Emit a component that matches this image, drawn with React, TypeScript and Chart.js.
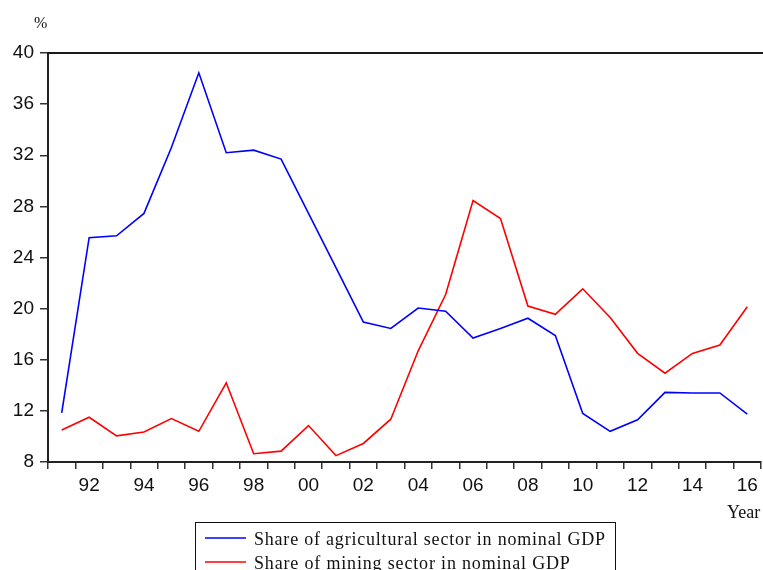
import React, { useEffect, useRef } from "react";
import { Chart, registerables } from "chart.js";

Chart.register(...registerables);

const years: string[] = [
  "1991", "1992", "1993", "1994", "1995", "1996", "1997", "1998", "1999", "2000",
  "2001", "2002", "2003", "2004", "2005", "2006", "2007", "2008", "2009", "2010",
  "2011", "2012", "2013", "2014", "2015", "2016",
];

const agriculture: number[] = [
  11.85, 25.55, 25.7, 27.45, 32.6, 38.45, 32.2, 32.4, 31.7, 27.45,
  23.2, 18.95, 18.45, 20.05, 19.8, 17.7, 18.45, 19.25, 17.9, 11.8,
  10.4, 11.3, 13.45, 13.4, 13.4, 11.75,
];

const mining: number[] = [
  10.5, 11.5, 10.05, 10.35, 11.4, 10.4, 14.2, 8.65, 8.85, 10.85,
  8.5, 9.45, 11.35, 16.7, 21.1, 28.45, 27.05, 20.2, 19.55, 21.55,
  19.3, 16.5, 14.95, 16.5, 17.15, 20.15,
];

const seriesNames: string[] = [
  "Share of agricultural sector in nominal GDP",
  "Share of mining sector in nominal GDP",
];

const yTicks = { min: 8, max: 40, step: 4 };

const decorPlugin = {
  id: "decor",
  afterDraw(chart: any) {
    const ctx = chart.ctx as CanvasRenderingContext2D;
    const area = chart.chartArea;
    ctx.save();
    // top border
    ctx.strokeStyle = "#1a1a1a";
    ctx.lineWidth = 2;
    ctx.beginPath();
    ctx.moveTo(area.left - 1, area.top);
    ctx.lineTo(chart.width, area.top);
    ctx.stroke();

    // % label
    ctx.fillStyle = "#111";
    ctx.font = "16px 'Liberation Serif'";
    ctx.textAlign = "left";
    ctx.textBaseline = "alphabetic";
    ctx.fillText("%", 34, 28);

    // Year label
    ctx.font = "18px 'Liberation Serif'";
    ctx.fillText("Year", 727, 518);

    // legend box
    ctx.strokeStyle = "#111";
    ctx.lineWidth = 1;
    ctx.strokeRect(195.5, 522.5, 420, 60);

    const colors = ["#0000ff", "#ff0000"];
    const baselines = [545, 569];
    const targetWidths = [351, 316];
    seriesNames.forEach((name, i) => {
      ctx.strokeStyle = colors[i];
      ctx.lineWidth = 1.5;
      ctx.beginPath();
      ctx.moveTo(205, baselines[i] - 7);
      ctx.lineTo(246, baselines[i] - 7);
      ctx.stroke();
      ctx.fillStyle = "#111";
      ctx.font = "18px 'Liberation Serif'";
      (ctx as any).letterSpacing = "0px";
      const w = ctx.measureText(name).width;
      const sp = (targetWidths[i] - w) / (name.length - 1);
      (ctx as any).letterSpacing = sp.toFixed(2) + "px";
      ctx.fillText(name, 254, baselines[i]);
      (ctx as any).letterSpacing = "0px";
    });
    ctx.restore();
  },
};

export default function App() {
  const ref = useRef<HTMLCanvasElement | null>(null);
  useEffect(() => {
    if (!ref.current) return;
    const chart = new Chart(ref.current, {
      type: "line",
      data: {
        labels: years,
        datasets: [
          {
            label: seriesNames[0],
            data: agriculture,
            borderColor: "#0000ff",
            borderWidth: 1.6,
            pointRadius: 0,
            tension: 0,
          },
          {
            label: seriesNames[1],
            data: mining,
            borderColor: "#ff0000",
            borderWidth: 1.6,
            pointRadius: 0,
            tension: 0,
          },
        ],
      },
      options: {
        responsive: false,
        animation: false,
        layout: { padding: { left: 0, top: 53, right: 2, bottom: 0 } },
        plugins: { legend: { display: false }, tooltip: { enabled: false } },
        scales: {
          x: {
            type: "category",
            offset: true,
            grid: {
              offset: true,
              drawOnChartArea: false,
              drawTicks: true,
              tickLength: 7,
              color: "#333",
              lineWidth: 1.5,
            },
            border: { display: true, color: "#222", width: 2 },
            ticks: {
              autoSkip: false,
              maxRotation: 0,
              minRotation: 0,
              padding: 5,
              color: "#111",
              font: { family: "'Liberation Sans'", size: 19 },
              callback: (_v: any, i: number) => {
                const y = parseInt(years[i], 10);
                return y % 2 === 0 ? years[i].slice(2) : "";
              },
            },
            afterFit: (s: any) => {
              s.height = 108;
            },
          },
          y: {
            min: yTicks.min,
            max: yTicks.max,
            grid: {
              drawOnChartArea: false,
              drawTicks: true,
              tickLength: 8,
              color: "#333",
              lineWidth: 1.5,
            },
            border: { display: true, color: "#222", width: 2 },
            ticks: {
              stepSize: yTicks.step,
              padding: 6,
              color: "#111",
              font: { family: "'Liberation Sans'", size: 19 },
            },
            afterFit: (s: any) => {
              s.width = 48;
            },
          },
        },
      },
      plugins: [decorPlugin],
    });
    return () => chart.destroy();
  }, []);
  return (
    <div style={{ position: "fixed", left: 0, top: 0, width: 763, height: 570, background: "#fff" }}>
      <canvas ref={ref} width={763} height={570} />
    </div>
  );
}
